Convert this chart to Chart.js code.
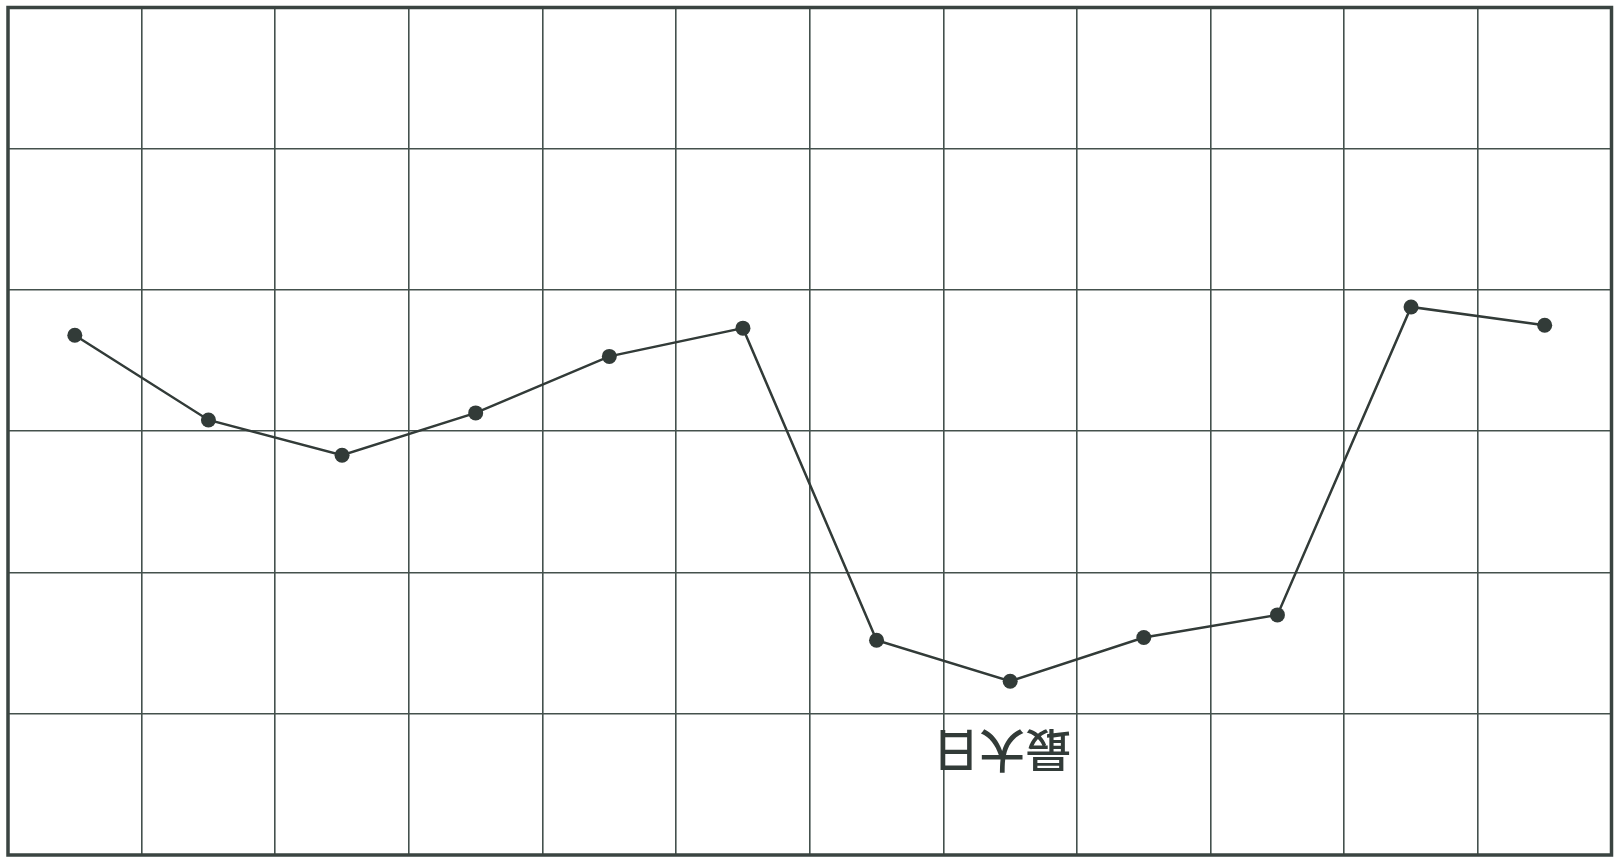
<!DOCTYPE html>
<html>
<head>
<meta charset="utf-8">
<script src="https://cdn.jsdelivr.net/npm/chart.js@4"></script>
<style>
  html, body { margin: 0; padding: 0; background: #fff; }
  #wrap { width: 1619px; height: 867px; }
</style>
</head>
<body>
<div id="wrap"><canvas id="chart"></canvas></div>
<script>
// data (units = grid rows from the bottom)
const categories = ['1', '2', '3', '4', '5', '6', '7', '8', '9', '10', '11', '12'];
const values = [3.68, 3.08, 2.83, 3.13, 3.53, 3.73, 1.52, 1.23, 1.54, 1.70, 3.88, 3.75];
const yTicks = [0, 1, 2, 3, 4, 5, 6];
const noteText = '最大日';
const notePos = { index: 6.94, value: 0.73 };

const gridColor = '#44514d';
const inkColor = '#323b38';

// frame round the plot + the upside-down note
const paperPlugin = {
    id: 'paper',
    afterDraw(chart) {
        const { ctx, chartArea, scales } = chart;
        ctx.save();
        ctx.strokeStyle = '#3a4441';
        ctx.lineWidth = 3.5;
        ctx.strokeRect(chartArea.left, chartArea.top,
            chartArea.right - chartArea.left, chartArea.bottom - chartArea.top);

        const px = scales.x.getPixelForValue(notePos.index);
        const py = scales.y.getPixelForValue(notePos.value);
        ctx.translate(px, py);
        ctx.rotate(Math.PI);
        ctx.fillStyle = inkColor;
        ctx.font = '500 46px "Noto Sans CJK SC"';
        ctx.textAlign = 'center';
        ctx.textBaseline = 'middle';
        ctx.fillText(noteText, 0, 0);
        ctx.restore();
    }
};

const ctx = document.getElementById('chart');
const myChart = new Chart(ctx, {
    type: 'line',
    data: {
        labels: categories,
        datasets: [{
            data: values,
            borderColor: inkColor,
            borderWidth: 2.5,
            backgroundColor: inkColor,
            pointBackgroundColor: inkColor,
            pointBorderWidth: 0,
            pointRadius: 7.5,
            tension: 0
        }]
    },
    options: {
        responsive: true,
        maintainAspectRatio: false,
        animation: false,
        layout: {
            padding: { left: 8, right: 5, top: 0, bottom: 12 }
        },
        plugins: {
            legend: { display: false },
            tooltip: { enabled: false }
        },
        scales: {
            x: {
                type: 'category',
                offset: true,
                grid: {
                    offset: true,
                    color: gridColor,
                    lineWidth: 1.6,
                    drawTicks: false
                },
                border: { display: false },
                ticks: { display: false }
            },
            y: {
                min: yTicks[0],
                max: yTicks[yTicks.length - 1],
                afterBuildTicks(axis) {
                    axis.ticks = yTicks.map(v => ({ value: v }));
                },
                grid: {
                    color: gridColor,
                    lineWidth: 1.6,
                    drawTicks: false
                },
                border: { display: false },
                ticks: { display: false }
            }
        }
    },
    plugins: [paperPlugin]
});
</script>
</body>
</html>
